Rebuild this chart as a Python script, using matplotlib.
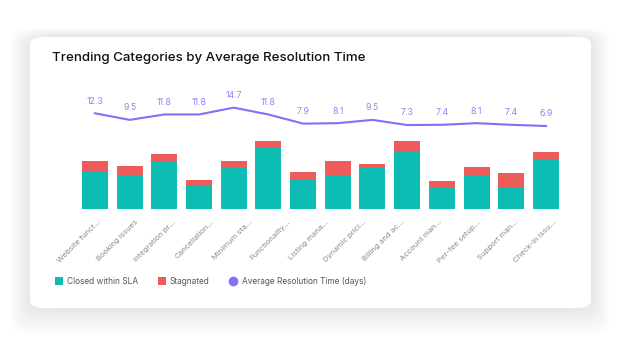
import matplotlib
matplotlib.use('Agg')
import matplotlib.pyplot as plt
from matplotlib.patches import FancyBboxPatch
import numpy as np

plt.rcParams['font.family'] = ['Inter', 'DejaVu Sans']

# data
closed = [38, 33, 48, 23, 41, 61, 29, 34, 41, 57, 22, 33, 22, 50]
stagnated = [10, 10, 7, 6, 7, 7, 8, 14, 4, 11, 6, 9, 14, 7]
avg_time = [12.3, 9.5, 11.8, 11.8, 14.7, 11.8, 7.9, 8.1, 9.5, 7.3, 7.4, 8.1, 7.4, 6.9]
# the category axis shows 13 labels spread under the 14 bars
labels = ['Website funct...', 'Booking issues', 'Integration pr...', 'Cancellation...',
          'Minimum sta...', 'Functionality...', 'Listing mana...', 'Dynamic prici...',
          'Billing and ac...', 'Account man...', 'Per-fee setup...', 'Support man...',
          'Check-in issu...']

teal = '#0dbdb4'
red = '#ee5b5b'
purple = '#8b6cf6'

W, H = 621, 338
fig = plt.figure(figsize=(W / 100, H / 100), dpi=100)
fig.patch.set_facecolor('#ffffff')

# card with soft shadow
cx0, cy0, cx1, cy1 = 30, 37, 591, 308
for i in range(24, 0, -1):
    sh = FancyBboxPatch(((cx0 - i * 0.8) / W, 1 - (cy1 + i * 1.2) / H),
                        (cx1 - cx0 + i * 1.6) / W, (cy1 - cy0 + i * 1.6) / H,
                        boxstyle='round,pad=0,rounding_size=0.04',
                        transform=fig.transFigure, facecolor='#000000',
                        alpha=0.0022, edgecolor='none', zorder=0)
    fig.patches.append(sh)
card = FancyBboxPatch((cx0 / W, 1 - cy1 / H), (cx1 - cx0) / W, (cy1 - cy0) / H,
                      boxstyle='round,pad=0,rounding_size=0.022',
                      transform=fig.transFigure, facecolor='white',
                      edgecolor='none', zorder=1)
fig.patches.append(card)

fig.text(52 / W, 1 - 58 / H, 'Trending Categories by Average Resolution Time',
         fontsize=9.6, fontweight='medium', color='#111111', va='center', ha='left')

x = np.arange(len(closed))
ax = fig.add_axes([77.6 / W, 1 - 209 / H, 485.7 / W, 119 / H])
ax.set_zorder(2)
ax.patch.set_alpha(0)
ax.bar(x, closed, width=0.75, color=teal)
ax.bar(x, stagnated, width=0.75, bottom=closed, color=red)
ax.set_xlim(-0.5, len(closed) - 0.5)
ax.set_ylim(0, 119)
ax.set_yticks([])
for s in ax.spines.values():
    s.set_visible(False)
ax.set_xticks(np.linspace(0.06, 13.2, len(labels)))
ax.set_xticklabels(labels, rotation=45, ha='right', va='top', rotation_mode='anchor',
                   fontsize=5.6, color='#8a8a8a')
ax.tick_params(axis='x', length=0, pad=7)

ax2 = ax.twinx()
ax2.plot(x, avg_time, color=purple, lw=1.5)
ax2.set_ylim(-28.4, 22.2)
ax2.set_yticks([])
for s in ax2.spines.values():
    s.set_visible(False)
for xi, v in zip(x, avg_time):
    ax2.annotate('%.1f' % v, (xi, v), xytext=(0, 5.5), textcoords='offset points',
                 ha='center', va='bottom', fontsize=6.3, color='#9482f5')

# legend
ly = 1 - 281 / H
fig.patches.append(FancyBboxPatch((55 / W, ly - 4 / H), 8 / W, 8 / H, boxstyle='square,pad=0',
                                  transform=fig.transFigure, facecolor=teal, edgecolor='none', zorder=3))
fig.text(67 / W, ly, 'Closed within SLA', fontsize=6, color='#555555', va='center')
fig.patches.append(FancyBboxPatch((158 / W, ly - 4 / H), 8 / W, 8 / H, boxstyle='square,pad=0',
                                  transform=fig.transFigure, facecolor=red, edgecolor='none', zorder=3))
fig.text(170 / W, ly, 'Stagnated', fontsize=6, color='#555555', va='center')
fig.lines.append(plt.Line2D([233 / W], [ly], marker='o', markersize=6, color=purple,
                            transform=fig.transFigure, zorder=3))
fig.text(242 / W, ly, 'Average Resolution Time (days)', fontsize=6, color='#555555', va='center')

fig.savefig('out.png', dpi=100)
